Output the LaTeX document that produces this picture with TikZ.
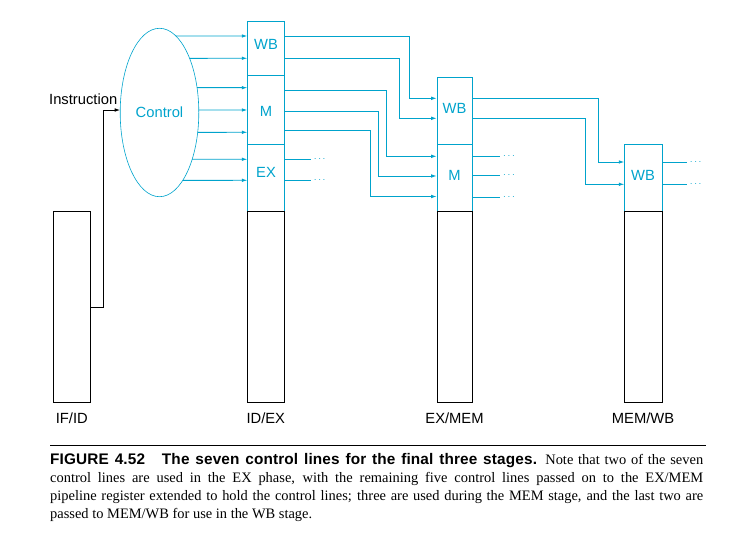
\documentclass[tikz,border=0pt]{standalone}
\usepackage{fontspec}
\setmainfont{Liberation Serif}
\setsansfont{Liberation Sans}
\newfontfamily\capsans[LetterSpace=1]{Liberation Sans}
\usetikzlibrary{shapes.geometric,arrows.meta,intersections}
\definecolor{ctl}{RGB}{0,163,204}
\begin{document}
\begin{tikzpicture}[x=1bp,y=-1bp,
  font=\sffamily\fontsize{14.8}{17}\selectfont,
  cbox/.style={draw=ctl,line width=0.9bp,inner sep=0,anchor=north west},
  kbox/.style={draw=black,line width=0.9bp,inner sep=0,anchor=north west},
  ctltext/.style={text=ctl,inner sep=0},
  cl/.style={draw=ctl,line width=0.9bp},
  cla/.style={cl,-{Latex[length=5.5bp,width=3.6bp]}},
  kla/.style={draw=black,line width=0.9bp,-{Latex[length=5.5bp,width=3.6bp]}},
  dotsty/.style={text=ctl,inner sep=0,anchor=base west,font=\fontsize{10}{11}\selectfont},
  reglabel/.style={anchor=base,inner sep=0}]
\useasboundingbox (0,0) rectangle (738,535);

% IF/ID
\node[kbox,minimum width=37bp,minimum height=191bp] (ifid) at (53.3,211.3) {};
% ID/EX
\node[cbox,minimum width=37bp,minimum height=54.6bp] (idexwb) at (247.3,20.7) {};
\node[cbox,minimum width=37bp,minimum height=69bp] (idexm) at (247.3,75.3) {};
\node[cbox,minimum width=37bp,minimum height=66.7bp] (idexex) at (247.3,144.3) {};
\node[kbox,minimum width=37bp,minimum height=191.3bp] (idex) at (247.3,211) {};
% EX/MEM
\node[cbox,minimum width=35.6bp,minimum height=67bp] (exmemwb) at (436.7,77.3) {};
\node[cbox,minimum width=35.6bp,minimum height=66.7bp] (exmemm) at (436.7,144.3) {};
\node[kbox,minimum width=35.6bp,minimum height=191.3bp] (exmem) at (436.7,211) {};
% MEM/WB
\node[cbox,minimum width=37.4bp,minimum height=67bp] (memwbwb) at (624.3,144) {};
\node[kbox,minimum width=37.4bp,minimum height=191.3bp] (memwb) at (624.3,211) {};

% field labels
\node[ctltext] (lwb1) at (266,44.7) {WB};
\node[ctltext] (lm1) at (266,111) {M};
\node[ctltext] (lex1) at (266,172) {EX};
\node[ctltext] (lwb2) at (454.5,108.8) {WB};
\node[ctltext] (lm2) at (454.5,175.8) {M};
\node[ctltext] (lwb3) at (643,175.5) {WB};

% register labels
\node[reglabel] (tifid) at (71.8,423.5) {IF/ID};
\node[reglabel] (tidex) at (265.8,423.5) {ID/EX};
\node[reglabel] (texmem) at (454.5,423.5) {EX/MEM};
\node[reglabel] (tmemwb) at (643,423.5) {MEM/WB};

% Control
\node[draw=ctl,line width=0.6bp,ellipse,minimum width=78.6bp,minimum height=168.4bp,
      inner sep=0,text=ctl,name path=ctrl] (ctrl) at (159.5,112.5) {Control};

% control lines into ID/EX
\foreach \yy [count=\i] in {36,58.3,87.7,110,132.3,159.3,180.3} {
  \path[name path=h\i] (ctrl.center |- 0,\yy) -- (idexwb.west |- 0,\yy);
  \draw[cla,name intersections={of=ctrl and h\i}] (intersection-1) -- (idexwb.west |- 0,\yy);
}

% Instruction
\node[anchor=base west,inner sep=0] (instr) at (49,105) {Instruction};
\path[name path=hin] (60,110) -- (ctrl.center |- 0,110);
\draw[kla,name intersections={of=ctrl and hin}]
  (ifid.east |- 0,307.3) -- (103.3,307.3) |- (intersection-1);

% ID/EX to EX/MEM
\draw[cla] (idexwb.east |- 0,36) -| (409.3,98.3) -- (exmemwb.west |- 0,98.3);
\draw[cla] (idexwb.east |- 0,58.3) -| (399.3,118.3) -- (exmemwb.west |- 0,118.3);
\draw[cla] (idexm.east |- 0,90.3) -| (386.3,156.3) -- (exmemm.west |- 0,156.3);
\draw[cla] (idexm.east |- 0,111.3) -| (378.3,176) -- (exmemm.west |- 0,176);
\draw[cla] (idexm.east |- 0,130) -| (370.3,196.5) -- (exmemm.west |- 0,196.5);

% EX/MEM to MEM/WB
\draw[cla] (exmemwb.east |- 0,98.3) -| (598.3,162) -- (memwbwb.west |- 0,162);
\draw[cla] (exmemwb.east |- 0,118.3) -| (585.3,184.3) -- (memwbwb.west |- 0,184.3);

% lines ending in dots
\draw[cl] (idexex.east |- 0,159.3) -- (310.7,159.3) coordinate (e1);
\draw[cl] (idexex.east |- 0,180.3) -- (310.7,180.3) coordinate (e2);
\draw[cl] (exmemm.east |- 0,156.3) -- (500,156.3) coordinate (e3);
\draw[cl] (exmemm.east |- 0,175.3) -- (500,175.3) coordinate (e4);
\draw[cl] (exmemm.east |- 0,197.3) -- (500,197.3) coordinate (e5);
\draw[cl] (memwbwb.east |- 0,162) -- (686.7,162) coordinate (e6);
\draw[cl] (memwbwb.east |- 0,184.3) -- (686.7,184.3) coordinate (e7);
\foreach \i in {1,...,7} {
  \node[dotsty] (d\i) at ([shift={(3,2.5)}]e\i) {$\cdots$};
}

% caption
\draw[line width=1bp] (50,445.7) coordinate (r1) -- (706,445.7) coordinate (r2);
\node[anchor=north west,text width=653bp,align=justify,inner sep=0,
      font=\rmfamily\fontsize{14.5}{17.8}\selectfont] (cap) at (50,453.5)
  {{\capsans\bfseries\fontsize{15.4}{17.8}\selectfont FIGURE 4.52\hspace{1.1em}The seven control lines for the final three stages.}
   Note that two of the seven\linebreak
   control lines are used in the EX phase, with the remaining five control lines passed on to the EX/MEM\linebreak
   pipeline register extended to hold the control lines; three are used during the MEM stage, and the last two are\linebreak
   passed to MEM/WB for use in the WB stage.};
\end{tikzpicture}
\end{document}
